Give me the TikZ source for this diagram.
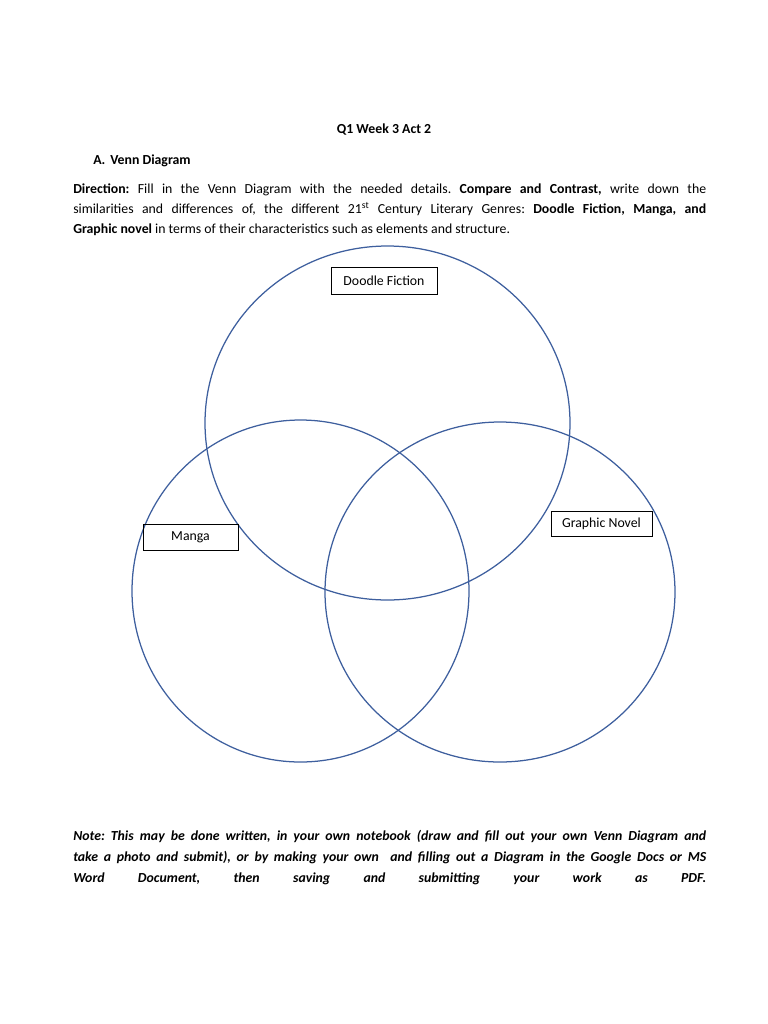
\documentclass[tikz,border=0pt]{standalone}
\usepackage{fontspec}
\setmainfont{Carlito}
\frenchspacing
\definecolor{vennblue}{RGB}{62,95,158}
\newlength{\linew}
\setlength{\linew}{504.5pt}
\tikzset{
  venn/.style={draw=vennblue, line width=1pt},
  labelbox/.style={draw=black, line width=0.6pt, inner sep=0pt, font=\fontsize{11}{13}\selectfont},
  txt/.style={anchor=base west, inner sep=0pt, font=\fontsize{11}{13}\selectfont},
  ctxt/.style={anchor=base, inner sep=0pt, font=\fontsize{11}{13}\selectfont},
}
\begin{document}
\begin{tikzpicture}[x=0.797pt, y=-0.797pt]
\useasboundingbox (0,0) rectangle (768,1024);
% title and headings
\node[ctxt] (title) at (384,133) {\bfseries Q1 Week 3 Act 2};
\node[txt] (secA) at (93,164) {\bfseries A.};
\node[txt] (secAt) at (110,164) {\bfseries Venn Diagram};
% direction paragraph
\node[txt] (d1) at (73,193) {\hbox to \linew{\frenchspacing\textbf{Direction:} Fill in the Venn Diagram with the needed details. \textbf{Compare and Contrast,} write down the}};
\node[txt] (d2) at (73,213) {\hbox to \linew{\frenchspacing similarities and differences of, the different 21\textsuperscript{st} Century Literary Genres: \textbf{Doodle Fiction, Manga, and}}};
\node[txt] (d3) at (73,233) {\frenchspacing\textbf{Graphic novel} in terms of their characteristics such as elements and structure.};
% circles
\draw[venn] (387.5,423) ellipse [x radius=182.5*0.797pt, y radius=177*0.797pt];
\draw[venn] (300.5,591) ellipse [x radius=168.5*0.797pt, y radius=171*0.797pt];
\draw[venn] (500,592) ellipse [x radius=175*0.797pt, y radius=170*0.797pt];
% label boxes
\node[labelbox, minimum width=84.5pt, minimum height=21.5pt] (doodle) at (384,280.5) {Doodle Fiction};
\node[labelbox, minimum width=75.7pt, minimum height=20.7pt] (manga) at (190.5,537.5) {Manga};
\node[labelbox, minimum width=80.5pt, minimum height=19.9pt] (graphic) at (601.5,523.5) {Graphic Novel};
% note
\node[txt] (n1) at (73,840) {\hbox to \linew{\frenchspacing\bfseries\itshape Note: This may be done written, in your own notebook (draw and fill out your own Venn Diagram and}};
\node[txt] (n2) at (73,861) {\hbox to \linew{\frenchspacing\bfseries\itshape take a photo and submit), or by making your own\ \ and filling out a Diagram in the Google Docs or MS}};
\node[txt] (n3) at (73,882) {\hbox to \linew{\frenchspacing\bfseries\itshape Word Document, then saving and submitting your work as PDF.}};
\end{tikzpicture}
\end{document}
